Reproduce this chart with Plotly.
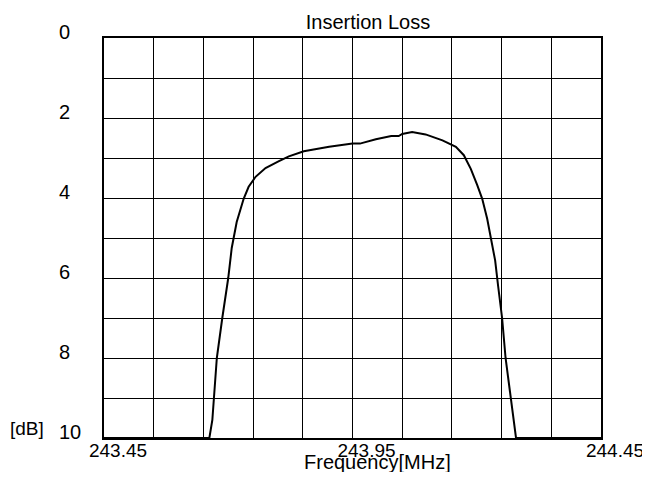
import plotly.graph_objects as go

# Data
freq_mhz = [243.45, 243.662, 243.668, 243.671, 243.677, 243.688, 243.700, 243.707,
            243.717, 243.731, 243.741, 243.755, 243.775, 243.802, 243.822, 243.852,
            243.903, 243.950, 243.965, 243.997, 244.028, 244.043, 244.050, 244.070,
            244.097, 244.131, 244.158, 244.174, 244.188, 244.201, 244.211, 244.221,
            244.230, 244.237, 244.243, 244.251, 244.258, 244.268, 244.279, 244.45]
loss_db = [10.0, 10.0, 9.55, 9.0, 8.0, 7.0, 6.0, 5.25,
           4.6, 4.02, 3.72, 3.47, 3.25, 3.08, 2.96, 2.83,
           2.72, 2.64, 2.64, 2.53, 2.45, 2.45, 2.40, 2.35,
           2.41, 2.56, 2.72, 2.93, 3.27, 3.68, 4.02, 4.52,
           5.1, 5.56, 6.2, 7.0, 8.0, 9.0, 10.0, 10.0]

x_grid = [243.45, 243.55, 243.65, 243.75, 243.85, 243.95, 244.05, 244.15, 244.25, 244.35, 244.45]
x_text = ["243.45", "", "", "", "", "243.95", "", "", "", "", "244.45"]
y_grid = [0, 1, 2, 3, 4, 5, 6, 7, 8, 9, 10]
FS = "\u2007"
y_text = ["0" + FS, "", "2" + FS, "", "4" + FS, "", "6" + FS, "", "8" + FS, "", "10"]

FONT = "Liberation Sans, Arial, sans-serif"
W, H = 642, 464   # page adds an 8px body margin

fig = go.Figure()
fig.add_trace(go.Scatter(x=freq_mhz, y=loss_db, mode="lines",
                         line=dict(color="black", width=2), showlegend=False))

fig.update_layout(
    width=W, height=H,
    margin=dict(l=96, r=49, t=30, b=34, autoexpand=False),
    paper_bgcolor="white", plot_bgcolor="white",
    font=dict(family=FONT, size=20, color="black"),
    title=dict(text="Insertion Loss", x=360 / W, xanchor="center",
               y=1 - 14 / H, yanchor="middle", font=dict(size=20, color="black")),
    xaxis=dict(range=[243.45, 244.45], tickvals=x_grid, ticktext=x_text,
               showgrid=True, gridcolor="black", gridwidth=1.3,
               showline=True, linecolor="black", linewidth=1.5, mirror=True,
               ticks="", zeroline=False, ticklabelshift=14, ticklabelstandoff=-6,
               automargin=False, tickfont=dict(size=19)),
    yaxis=dict(range=[10, 0], tickvals=y_grid, ticktext=y_text,
               showgrid=True, gridcolor="black", gridwidth=1.3,
               showline=True, linecolor="black", linewidth=1.5, mirror=True,
               ticks="", zeroline=False, ticklabelstandoff=17, ticklabelshift=6,
               automargin=False, tickfont=dict(size=20)),
)

fig.add_annotation(text="Frequency[MHz]", xref="paper", yref="paper",
                   x=(377 - 104) / 497, y=-(462 - 437.7) / 400,
                   xanchor="center", yanchor="middle", showarrow=False,
                   font=dict(size=20, color="black"))
fig.add_annotation(text="[dB]", xref="paper", yref="paper",
                   x=(46 - 104) / 497, y=-(428 - 437.7) / 400,
                   xanchor="right", yanchor="middle", showarrow=False,
                   font=dict(size=19, color="black"))

fig.write_html("out.html")
